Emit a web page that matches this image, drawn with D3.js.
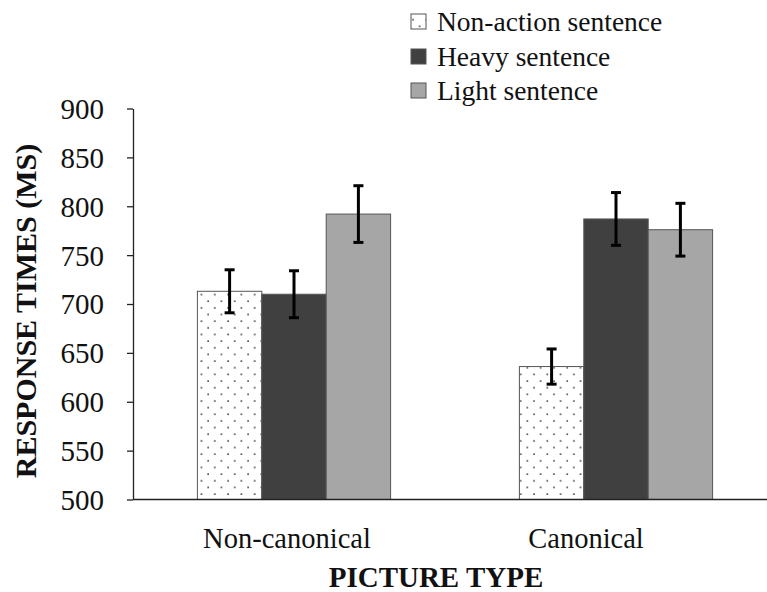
<!DOCTYPE html>
<html>
<head>
<meta charset="utf-8">
<script src="https://cdn.jsdelivr.net/npm/d3@7"></script>
<style>
  html, body { margin: 0; padding: 0; background: #fff; }
  svg { display: block; }
</style>
</head>
<body>
<div id="chart"></div>
<script>
// data
const categories = ["Non-canonical", "Canonical"];
const seriesNames = ["Non-action sentence", "Heavy sentence", "Light sentence"];
const nonActionMeans = [713, 636];
const heavyMeans = [710, 787];
const lightMeans = [792, 776];
const nonActionErr = [22, 18];
const heavyErr = [24, 27];
const lightErr = [29, 27];
const yTicks = [500, 550, 600, 650, 700, 750, 800, 850, 900];

const width = 767, height = 592;
const font = '"Liberation Serif"';

const svg = d3.select("#chart").append("svg")
    .attr("width", width)
    .attr("height", height);

// dotted fill
const defs = svg.append("defs");
const pat = defs.append("pattern")
    .attr("id", "dots")
    .attr("patternUnits", "userSpaceOnUse")
    .attr("width", 13.3)
    .attr("height", 13.3);
pat.append("rect").attr("width", 13.3).attr("height", 13.3).attr("fill", "#fff");
pat.append("circle").attr("cx", 2).attr("cy", 2).attr("r", 0.8).attr("fill", "#111");
pat.append("circle").attr("cx", 8.65).attr("cy", 8.65).attr("r", 0.8).attr("fill", "#111");

const fills = ["url(#dots)", "#404040", "#a6a6a6"];

const plotLeft = 133, plotRight = 777, plotTop = 108.5, plotBottom = 499.5;

const y = d3.scaleLinear().domain([500, 900]).range([plotBottom, plotTop]);
const x0 = d3.scaleBand().domain(categories).range([plotLeft, plotRight])
    .paddingInner(0.4).paddingOuter(0.2);
const x1 = d3.scaleBand().domain(seriesNames).range([0, x0.bandwidth()]);

const means = [nonActionMeans, heavyMeans, lightMeans];
const errs = [nonActionErr, heavyErr, lightErr];

const rows = [];
categories.forEach((c, ci) => {
    seriesNames.forEach((s, si) => {
        rows.push({ cat: c, series: s, si, value: means[si][ci], err: errs[si][ci] });
    });
});

// bars
svg.append("g").selectAll("rect")
    .data(rows)
    .join("rect")
    .attr("x", d => x0(d.cat) + x1(d.series))
    .attr("y", d => y(d.value))
    .attr("width", x1.bandwidth())
    .attr("height", d => plotBottom - y(d.value))
    .attr("fill", d => fills[d.si])
    .attr("stroke", "#555")
    .attr("stroke-width", 1);

// error bars
const eb = svg.append("g").attr("stroke", "#000").attr("stroke-width", 3);
const cx = d => x0(d.cat) + x1(d.series) + x1.bandwidth() / 2;
eb.selectAll("line.v").data(rows).join("line").attr("class", "v")
    .attr("x1", cx).attr("x2", cx)
    .attr("y1", d => y(d.value + d.err)).attr("y2", d => y(d.value - d.err));
eb.selectAll("line.t").data(rows).join("line").attr("class", "t")
    .attr("x1", d => cx(d) - 5).attr("x2", d => cx(d) + 5)
    .attr("y1", d => y(d.value + d.err)).attr("y2", d => y(d.value + d.err));
eb.selectAll("line.b").data(rows).join("line").attr("class", "b")
    .attr("x1", d => cx(d) - 5).attr("x2", d => cx(d) + 5)
    .attr("y1", d => y(d.value - d.err)).attr("y2", d => y(d.value - d.err));

// y axis
const yAxis = svg.append("g")
    .attr("transform", `translate(${plotLeft},0)`)
    .call(d3.axisLeft(y).tickValues(yTicks).tickSize(6).tickPadding(23).tickSizeOuter(0));
yAxis.select(".domain").attr("stroke", "#222").attr("stroke-width", 1.3);
yAxis.selectAll(".tick line").attr("stroke", "#222").attr("stroke-width", 1.3);
yAxis.selectAll(".tick text")
    .style("font-family", font)
    .style("font-size", "29px")
    .attr("fill", "#111")
    .attr("dy", "0.34em");

// x axis line
svg.append("line")
    .attr("x1", plotLeft).attr("x2", plotRight)
    .attr("y1", plotBottom).attr("y2", plotBottom)
    .attr("stroke", "#222").attr("stroke-width", 1.5);

// category labels (slightly left of band centres in the original)
const labelShift = [-7, -30];
svg.append("g").selectAll("text")
    .data(categories)
    .join("text")
    .attr("x", (d, i) => x0(d) + x0.bandwidth() / 2 + labelShift[i])
    .attr("y", 548)
    .attr("text-anchor", "middle")
    .style("font-family", font)
    .style("font-size", "28.5px")
    .attr("fill", "#111")
    .text(d => d);

// axis titles
svg.append("text")
    .attr("x", 436).attr("y", 587)
    .attr("text-anchor", "middle")
    .style("font-family", font)
    .style("font-size", "29px")
    .style("font-weight", "bold")
    .attr("fill", "#111")
    .text("PICTURE TYPE");

svg.append("text")
    .attr("transform", "translate(36,311) rotate(-90)")
    .attr("text-anchor", "middle")
    .style("font-family", font)
    .style("font-size", "30px")
    .style("font-weight", "bold")
    .attr("fill", "#111")
    .text("RESPONSE TIMES (MS)");

// legend
const legend = svg.append("g").attr("transform", "translate(411,0)");
const legendBase = [31, 66, 100];
const li = legend.selectAll("g").data(seriesNames).join("g")
    .attr("transform", (d, i) => `translate(0,${legendBase[i]})`);
li.append("rect")
    .attr("x", 0).attr("y", -17)
    .attr("width", 15).attr("height", 15)
    .attr("fill", (d, i) => fills[i])
    .attr("stroke", "#555").attr("stroke-width", 1);
li.append("text")
    .attr("x", 26).attr("y", 0)
    .style("font-family", font)
    .style("font-size", "27.5px")
    .attr("fill", "#111")
    .text(d => d);
</script>
</body>
</html>
